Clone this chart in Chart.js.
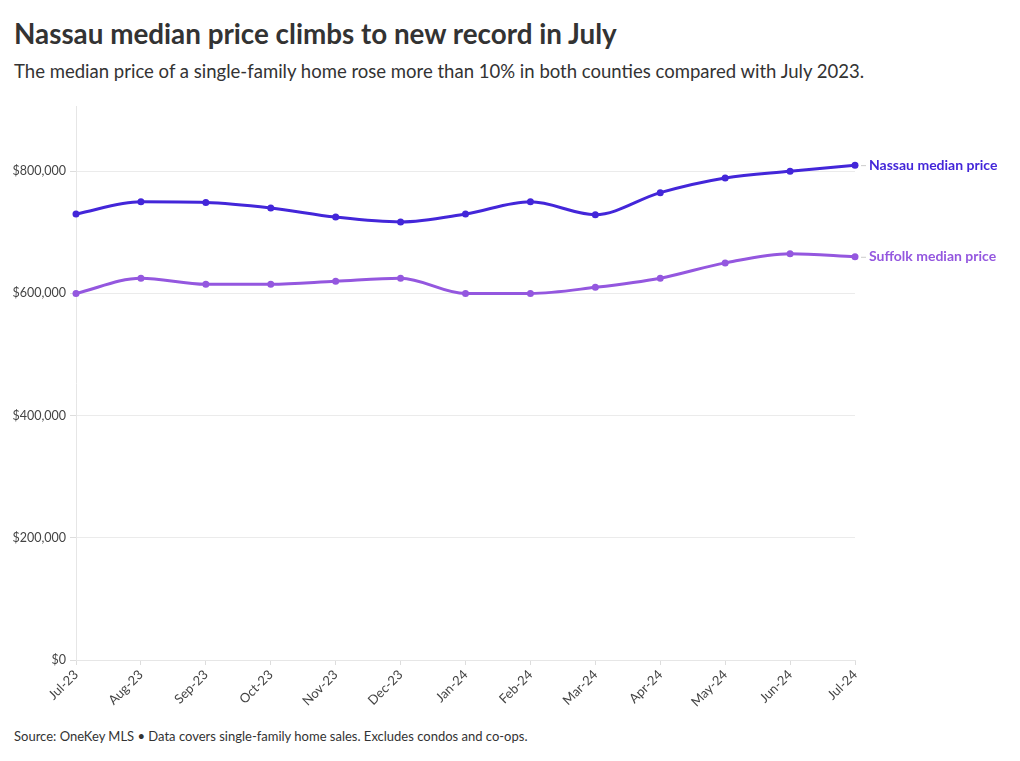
<!DOCTYPE html>
<html>
<head>
<meta charset="utf-8">
<script src="https://cdn.jsdelivr.net/npm/chart.js@4.4.1/dist/chart.umd.min.js"></script>
<style>
  html, body { margin: 0; padding: 0; background: #fff; }
  body { width: 1020px; height: 761px; position: relative; font-family: Lato, "Noto Sans", sans-serif; color: #333; overflow: hidden; }
  #title { position: absolute; left: 14px; top: 17px; font-size: 27.8px; font-weight: 700; color: #333; white-space: nowrap; }
  #subtitle { position: absolute; left: 14px; top: 60px; font-size: 18.55px; font-weight: 400; color: #333; white-space: nowrap; }
  #wrap { position: absolute; left: 0; top: 95px; width: 1020px; height: 630px; }
  #source { position: absolute; left: 14px; top: 728px; font-size: 13px; color: #333; white-space: nowrap; }
</style>
</head>
<body>
<div id="title">Nassau median price climbs to new record in July</div>
<div id="subtitle">The median price of a single-family home rose more than 10% in both counties compared with July 2023.</div>
<div id="wrap"><canvas id="c" width="1020" height="630"></canvas></div>
<div id="source">Source: OneKey MLS • Data covers single-family home sales. Excludes condos and co-ops.</div>
<script>
const months = ["Jul-23","Aug-23","Sep-23","Oct-23","Nov-23","Dec-23","Jan-24","Feb-24","Mar-24","Apr-24","May-24","Jun-24","Jul-24"];
const nassau = [730000, 750000, 749000, 740000, 725000, 717000, 730000, 750000, 729000, 765000, 789000, 800000, 810000];
const suffolk = [600000, 625000, 615000, 615000, 620000, 625000, 600000, 600000, 610000, 625000, 650000, 665000, 660000];
const yTicks = [0, 200000, 400000, 600000, 800000];
const seriesNames = ["Nassau median price", "Suffolk median price"];
const colors = ["#4326d9", "#9457df"];

const endLabels = {
  id: 'endLabels',
  afterDatasetsDraw(chart) {
    const ctx = chart.ctx;
    chart.data.datasets.forEach((ds, i) => {
      const meta = chart.getDatasetMeta(i);
      const pt = meta.data[meta.data.length - 1];
      ctx.save();
      ctx.strokeStyle = '#cccccc';
      ctx.lineWidth = 1;
      ctx.beginPath();
      ctx.moveTo(pt.x + 6, pt.y + 0.5);
      ctx.lineTo(pt.x + 11, pt.y + 0.5);
      ctx.stroke();
      ctx.fillStyle = ds.borderColor;
      ctx.font = 'bold 14px Lato, "Noto Sans", sans-serif';
      ctx.textBaseline = 'middle';
      ctx.textAlign = 'left';
      ctx.fillText(ds.label, pt.x + 14, pt.y);
      ctx.restore();
    });
  }
};

new Chart(document.getElementById('c'), {
  type: 'line',
  data: {
    labels: months,
    datasets: [
      { label: seriesNames[0], data: nassau, borderColor: colors[0], backgroundColor: colors[0], pointBackgroundColor: colors[0], borderWidth: 3, pointRadius: 3.5, pointBorderWidth: 0, cubicInterpolationMode: 'monotone' },
      { label: seriesNames[1], data: suffolk, borderColor: colors[1], backgroundColor: colors[1], pointBackgroundColor: colors[1], borderWidth: 3, pointRadius: 3.5, pointBorderWidth: 0, cubicInterpolationMode: 'monotone' }
    ]
  },
  options: {
    responsive: false,
    animation: false,
    layout: { padding: { top: 10, right: 165, left: 0, bottom: 0 } },
    plugins: { legend: { display: false }, tooltip: { enabled: false }, title: { display: false } },
    scales: {
      x: {
        grid: { drawOnChartArea: false, drawTicks: true, tickLength: 5, color: '#dddddd' },
        border: { color: '#e6e6e6' },
        ticks: { autoSkip: false, maxRotation: 45, minRotation: 45, color: '#444', font: { family: 'Lato, "Noto Sans", sans-serif', size: 13 }, padding: 2 },
        afterFit(s) { s.height = 65; }
      },
      y: {
        min: 0,
        max: 906000,
        afterBuildTicks(s) { s.ticks = yTicks.map(v => ({ value: v })); },
        grid: { color: '#ebebeb', tickLength: 6, tickColor: '#dddddd' },
        border: { color: '#e6e6e6' },
        ticks: {
          color: '#444', padding: 4,
          font: { family: 'Lato, "Noto Sans", sans-serif', size: 12.5 },
          callback: v => '$' + v.toLocaleString('en-US')
        },
        afterFit(s) { s.width = 76; }
      }
    }
  },
  plugins: [endLabels]
});
</script>
</body>
</html>
